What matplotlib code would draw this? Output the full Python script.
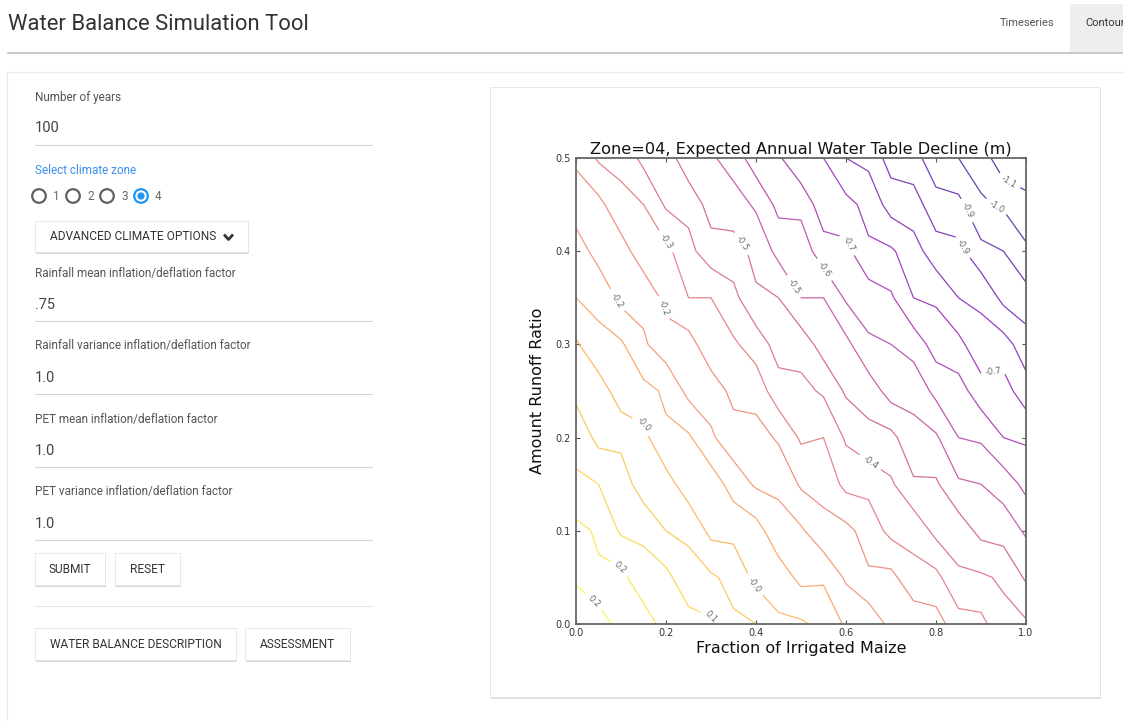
import numpy as np
import matplotlib.pyplot as plt
from matplotlib.patches import Rectangle, Circle

W, H = 1123, 721

# Grid
frac_maize = [0.0, 0.05, 0.1, 0.15, 0.2, 0.25, 0.3, 0.35, 0.4, 0.45, 0.5,
              0.55, 0.6, 0.65, 0.7, 0.75, 0.8, 0.85, 0.9, 0.95, 1.0]
runoff_ratio = [0.0, 0.05, 0.1, 0.15, 0.2, 0.25, 0.3, 0.35, 0.4, 0.45, 0.5]

# Expected annual water table decline (m), rows = runoff ratio, cols = fraction maize
decline = [
    [0.30, 0.29, 0.22, 0.22, 0.15, 0.14, 0.12, 0.05, 0.04, -0.02, -0.02, -0.05, -0.11, -0.12, -0.19, -0.19, -0.21, -0.28, -0.29, -0.36, -0.37],
    [0.24, 0.19, 0.20, 0.13, 0.13, 0.06, 0.05, 0.02, -0.05, -0.06, -0.12, -0.11, -0.18, -0.23, -0.22, -0.29, -0.29, -0.37, -0.37, -0.39, -0.46],
    [0.20, 0.17, 0.10, 0.10, 0.04, 0.03, -0.05, -0.05, -0.07, -0.15, -0.16, -0.22, -0.22, -0.27, -0.33, -0.33, -0.40, -0.41, -0.47, -0.48, -0.53],
    [0.12, 0.11, 0.08, 0.00, 0.00, -0.07, -0.06, -0.13, -0.18, -0.18, -0.25, -0.26, -0.33, -0.33, -0.37, -0.44, -0.44, -0.51, -0.52, -0.55, -0.61],
    [0.09, 0.02, 0.02, -0.01, -0.09, -0.09, -0.16, -0.21, -0.21, -0.25, -0.32, -0.31, -0.39, -0.43, -0.43, -0.50, -0.51, -0.59, -0.60, -0.66, -0.67],
    [0.02, 0.01, -0.07, -0.08, -0.11, -0.19, -0.20, -0.26, -0.27, -0.35, -0.36, -0.39, -0.46, -0.48, -0.55, -0.54, -0.61, -0.63, -0.70, -0.70, -0.77],
    [-0.02, -0.09, -0.09, -0.16, -0.21, -0.21, -0.29, -0.30, -0.34, -0.41, -0.41, -0.48, -0.50, -0.58, -0.59, -0.62, -0.69, -0.71, -0.78, -0.77, -0.84],
    [-0.10, -0.11, -0.19, -0.19, -0.26, -0.31, -0.31, -0.36, -0.44, -0.45, -0.52, -0.52, -0.60, -0.62, -0.65, -0.73, -0.74, -0.80, -0.81, -0.89, -0.91],
    [-0.13, -0.20, -0.21, -0.28, -0.29, -0.36, -0.42, -0.42, -0.47, -0.54, -0.55, -0.63, -0.64, -0.72, -0.72, -0.77, -0.84, -0.85, -0.92, -0.94, -1.00],
    [-0.21, -0.22, -0.29, -0.31, -0.39, -0.40, -0.48, -0.49, -0.53, -0.61, -0.61, -0.70, -0.71, -0.75, -0.83, -0.84, -0.91, -0.92, -1.00, -1.02, -1.05],
    [-0.25, -0.32, -0.33, -0.40, -0.41, -0.50, -0.51, -0.55, -0.63, -0.65, -0.72, -0.73, -0.80, -0.82, -0.90, -0.91, -0.99, -1.01, -1.04, -1.13, -1.15],
]

levels = [-1.08, -1.01, -0.94, -0.87, -0.80, -0.73, -0.66, -0.59, -0.52, -0.45,
          -0.38, -0.31, -0.24, -0.17, -0.10, -0.03, 0.04, 0.11, 0.18, 0.25]

# where the labels sit on the lines
label_spots = [(0.053, 0.031), (0.098, 0.06), (0.313, 0.017), (0.39, 0.04),
               (0.164, 0.222), (0.10, 0.35), (0.20, 0.34), (0.198, 0.41),
               (0.66, 0.178), (0.371, 0.409), (0.50, 0.367), (0.573, 0.387),
               (0.624, 0.412), (0.924, 0.289), (0.836, 0.399), (0.836, 0.436),
               (0.927, 0.441), (0.958, 0.471)]

form_fields = [
    ("Rainfall mean inflation/deflation factor", ".75"),
    ("Rainfall variance inflation/deflation factor", "1.0"),
    ("PET mean inflation/deflation factor", "1.0"),
    ("PET variance inflation/deflation factor", "1.0"),
]

UI_FONT = "Roboto"


def button(ax, x, y, w, h, label):
    ax.add_patch(Rectangle((x + 1, y + 2), w, h, color="#bdbdbd", alpha=0.6, lw=0))
    ax.add_patch(Rectangle((x, y), w, h, facecolor="white", edgecolor="#e6e6e6", lw=0.6))
    ax.text(x + w / 2, y + h / 2 + 0.5, label, ha="center", va="center",
            fontsize=8.6, color="#333333", family=UI_FONT)


fig = plt.figure(figsize=(W / 100, H / 100), dpi=100)
fig.patch.set_facecolor("white")

# ---------------------------
# page layout (pixel coords)
# ---------------------------
ui = fig.add_axes([0, 0, 1, 1])
ui.set_xlim(0, W)
ui.set_ylim(H, 0)
ui.axis("off")

ui.text(8, 24, "Water Balance Simulation Tool", fontsize=15.8, color="#333333",
        va="center", family=UI_FONT)
ui.add_patch(Rectangle((1070, 4), 60, 48, color="#eeeeee", lw=0))
ui.text(1027, 23, "Timeseries", fontsize=8, color="#555555", ha="center",
        va="center", family=UI_FONT)
ui.text(1085, 23, "Contour", fontsize=8, color="#333333", va="center",
        family=UI_FONT, clip_on=True)
ui.plot([8, W], [52.5, 52.5], color="#bdbdbd", lw=1.2)

ui.add_patch(Rectangle((7, 72), W, H, facecolor="white", edgecolor="#ebebeb", lw=1))

# left form
ui.text(35, 97, "Number of years", fontsize=8.5, color="#555555", va="center", family=UI_FONT)
ui.text(35, 128, "100", fontsize=10.5, color="#444444", va="center", family=UI_FONT)
ui.plot([35, 372], [145, 145], color="#d6d6d6", lw=0.8)

ui.text(35, 170, "Select climate zone", fontsize=8.5, color="#3d8ff0", va="center", family=UI_FONT)
for i in range(4):
    cx = 39 + 34 * i
    sel = i == 3
    ui.add_patch(Circle((cx, 196), 6.8, facecolor="white",
                        edgecolor="#2196f3" if sel else "#616161", lw=1.6))
    if sel:
        ui.add_patch(Circle((cx, 196), 3.6, color="#2196f3", lw=0))
    ui.text(cx + 14, 196, str(i + 1), fontsize=8.5, color="#666666", va="center", family=UI_FONT)

button(ui, 35, 221, 213, 31, "")
ui.text(50, 237, "ADVANCED CLIMATE OPTIONS", fontsize=8.6, color="#333333",
        va="center", family=UI_FONT)
ui.plot([224, 228.5, 233], [234.5, 239.5, 234.5], color="#333333", lw=2,
        solid_capstyle="butt")

y0 = 273
for label, value in form_fields:
    ui.text(35, y0, label, fontsize=8.5, color="#555555", va="center", family=UI_FONT)
    ui.text(35, y0 + 32, value, fontsize=10.5, color="#444444", va="center", family=UI_FONT)
    ui.plot([35, 372], [y0 + 48, y0 + 48], color="#d6d6d6", lw=0.8)
    y0 += 73

button(ui, 35, 553, 70, 32, "SUBMIT")
button(ui, 115, 553, 65, 32, "RESET")
ui.plot([35, 372], [606, 606], color="#e6e6e6", lw=0.8)
button(ui, 35, 628, 201, 32, "WATER BALANCE DESCRIPTION")
button(ui, 245, 628, 105, 32, "ASSESSMENT")

# plot card
ui.add_patch(Rectangle((491, 89), 610, 610, color="#cfcfcf", alpha=0.7, lw=0))
ui.add_patch(Rectangle((490, 87), 610, 610, facecolor="white", edgecolor="#e3e3e3", lw=0.6))

# ---------------------------
# contour plot
# ---------------------------
ax = fig.add_axes([576 / W, (H - 624) / H, 450 / W, 466 / H])
X, Y = np.meshgrid(frac_maize, runoff_ratio)
Z = np.array(decline)

cs = ax.contour(X, Y, Z, levels=levels, cmap="plasma", linewidths=0.9, alpha=0.75)
ax.clabel(cs, fmt="%.1f", fontsize=6, inline=True, manual=label_spots, colors="#333333")

ax.set_xlim(0, 1)
ax.set_ylim(0, 0.5)
ax.set_xticks([0.0, 0.2, 0.4, 0.6, 0.8, 1.0])
ax.set_yticks([0.0, 0.1, 0.2, 0.3, 0.4, 0.5])
ax.tick_params(direction="in", top=True, right=True, labelsize=7, length=3,
               color="#555555", labelcolor="#333333")
ax.tick_params(axis="x", pad=3)
ax.tick_params(axis="y", pad=4)
for sp in ax.spines.values():
    sp.set_color("#666666")
    sp.set_linewidth(1.3)

ax.set_title("Zone=04, Expected Annual Water Table Decline (m)", fontsize=11.6,
             color="#111111", pad=3)
ax.set_xlabel("Fraction of Irrigated Maize", fontsize=11.5, color="#111111", labelpad=2)
ax.set_ylabel("Amount Runoff Ratio", fontsize=11.5, color="#111111", labelpad=7)

fig.savefig("out.png", dpi=100)
